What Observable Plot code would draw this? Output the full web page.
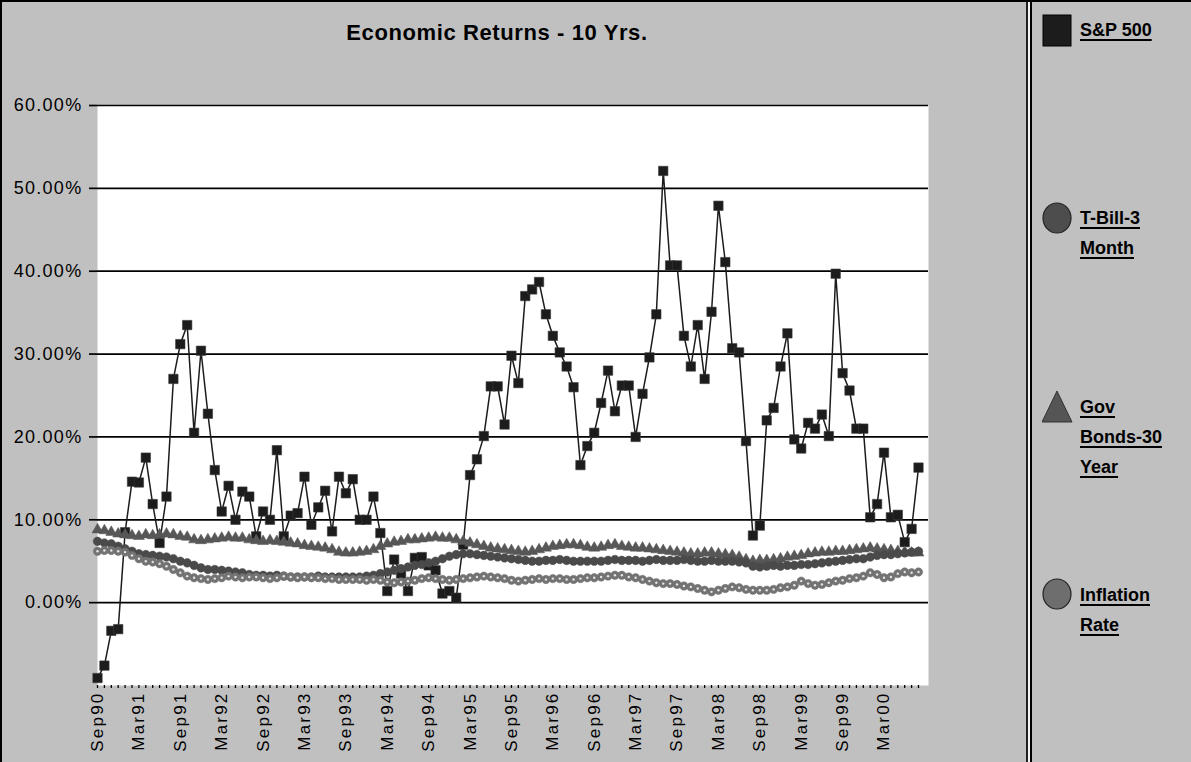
<!DOCTYPE html>
<html>
<head>
<meta charset="utf-8">
<script src="https://cdn.jsdelivr.net/npm/d3@7"></script>
<script src="https://cdn.jsdelivr.net/npm/@observablehq/plot@0.6"></script>
<style>
  html, body { margin: 0; padding: 0; background: #c0c0c0; }
  #wrap { position: relative; width: 1191px; height: 762px; background: #c0c0c0; overflow: hidden;
          font-family: "Liberation Sans", Arial, sans-serif; color: #000; }
  #chart { position: absolute; left: 0; top: 0; }
  #title { position: absolute; left: 0; width: 994px; top: 20px; text-align: center;
           font-weight: bold; font-size: 22px; line-height: 26px; letter-spacing: 0.6px; }
  .bt { position: absolute; left: 0; top: 0; width: 1191px; height: 2px; background: #000; }
  .bl { position: absolute; left: 0; top: 0; width: 2px; height: 762px; background: #000; }
  .sep1 { position: absolute; left: 1026px; top: 2px; width: 2px; height: 760px; background: #202020; }
  .sep2 { position: absolute; left: 1028px; top: 2px; width: 2px; height: 760px; background: #f4f4f4; }
  .sep3 { position: absolute; left: 1030px; top: 2px; width: 2px; height: 760px; background: #000; }
  .lg { position: absolute; left: 1080px; font-weight: bold; font-size: 18px; line-height: 22px;
        text-decoration: underline; text-decoration-thickness: 2px; text-underline-offset: 3px; white-space: nowrap; }
  .mk { position: absolute; left: 1042px; }
  svg g[aria-label="y-axis tick label"] text { letter-spacing: 1.3px; }
  svg g[aria-label="x-axis tick label"] text { letter-spacing: 2.2px; }
</style>
</head>
<body>
<div id="wrap">
  <div id="chart"></div>
  <div class="bt"></div><div class="bl"></div>
  <div class="sep1"></div><div class="sep2"></div><div class="sep3"></div>
  <div id="title"></div>
  <div id="legend"></div>
</div>
<script>
// ---- data (percent, monthly from Sep 1990) ----
const tickLabels = ["Sep90","Mar91","Sep91","Mar92","Sep92","Mar93","Sep93","Mar94","Sep94","Mar95",
                    "Sep95","Mar96","Sep96","Mar97","Sep97","Mar98","Sep98","Mar99","Sep99","Mar00"];
const yTicks = [0, 10, 20, 30, 40, 50, 60];

const sp500 = [
  -9.1, -7.6, -3.4, -3.2, 8.5, 14.6, 14.5, 17.5, 11.9, 7.2,
  12.8, 27.0, 31.2, 33.5, 20.5, 30.4, 22.8, 16.0, 11.0, 14.1,
  10.0, 13.4, 12.8, 8.0, 11.0, 10.0, 18.4, 8.0, 10.5, 10.8,
  15.2, 9.4, 11.5, 13.5, 8.6, 15.2, 13.2, 14.9, 10.0, 10.0,
  12.8, 8.4, 1.4, 5.2, 3.5, 1.4, 5.4, 5.5, 4.5, 3.9,
  1.1, 1.4, 0.6, 7.0, 15.4, 17.3, 20.1, 26.1, 26.1, 21.5,
  29.8, 26.5, 37.0, 37.8, 38.7, 34.8, 32.2, 30.2, 28.5, 26.0,
  16.6, 18.9, 20.5, 24.1, 28.0, 23.1, 26.2, 26.2, 20.0, 25.2,
  29.6, 34.8, 52.1, 40.7, 40.7, 32.2, 28.5, 33.5, 27.0, 35.1,
  47.9, 41.1, 30.7, 30.2, 19.5, 8.1, 9.3, 22.0, 23.5, 28.5,
  32.5, 19.7, 18.6, 21.7, 21.0, 22.7, 20.1, 39.7, 27.7, 25.6,
  21.0, 21.0, 10.3, 11.9, 18.1, 10.3, 10.6, 7.3, 8.9, 16.3
];
const tbill3m = [
  7.4, 7.2, 7.1, 6.8, 6.5, 6.2, 5.9, 5.8, 5.7, 5.6,
  5.5, 5.3, 5.0, 4.8, 4.5, 4.2, 4.0, 4.0, 3.9, 3.8,
  3.7, 3.6, 3.4, 3.3, 3.3, 3.2, 3.3, 3.2, 3.1, 3.1,
  3.1, 3.1, 3.2, 3.1, 3.1, 3.1, 3.1, 3.1, 3.1, 3.2,
  3.3, 3.5, 3.7, 3.9, 4.1, 4.3, 4.5, 4.6, 4.8, 5.0,
  5.3, 5.6, 5.8, 5.9, 5.9, 5.8, 5.7, 5.6, 5.5, 5.4,
  5.3, 5.2, 5.1, 5.0, 5.0, 5.1, 5.1, 5.2, 5.1, 5.0,
  5.0, 5.0, 5.0, 5.0, 5.1, 5.2, 5.1, 5.1, 5.1, 5.0,
  5.1, 5.2, 5.1, 5.1, 5.1, 5.2, 5.1, 5.0, 5.0, 5.1,
  5.0, 5.0, 5.0, 4.9, 4.8, 4.4, 4.3, 4.4, 4.5, 4.4,
  4.5, 4.5, 4.6, 4.6, 4.7, 4.8, 4.9, 5.0, 5.1, 5.2,
  5.3, 5.3, 5.5, 5.7, 5.8, 5.8, 5.9, 6.0, 6.1, 6.2
];
const govBonds30 = [
  8.8, 8.7, 8.5, 8.3, 8.2, 8.1, 8.0, 8.2, 8.1, 8.2,
  8.3, 8.2, 8.0, 7.9, 7.6, 7.5, 7.6, 7.7, 7.8, 7.9,
  7.8, 7.8, 7.6, 7.5, 7.4, 7.5, 7.4, 7.3, 7.2, 7.1,
  6.9, 6.8, 6.7, 6.6, 6.4, 6.1, 6.0, 6.0, 6.1, 6.2,
  6.4, 6.8, 7.1, 7.3, 7.4, 7.6, 7.6, 7.7, 7.8, 7.9,
  7.8, 7.8, 7.6, 7.4, 7.2, 7.0, 6.8, 6.6, 6.5, 6.4,
  6.3, 6.2, 6.1, 6.2, 6.4, 6.6, 6.8, 6.9, 7.0, 7.0,
  6.9, 6.7, 6.6, 6.7, 6.9, 7.0, 6.8, 6.7, 6.6, 6.6,
  6.5, 6.4, 6.3, 6.2, 6.1, 6.0, 5.9, 5.9, 6.0, 6.0,
  5.9, 5.8, 5.7, 5.5, 5.2, 5.0, 5.1, 5.1, 5.2, 5.3,
  5.5, 5.6, 5.7, 5.9, 6.0, 6.1, 6.1, 6.2, 6.2, 6.3,
  6.4, 6.5, 6.6, 6.5, 6.4, 6.3, 6.2, 6.1, 6.0, 6.0
];
const inflation = [
  6.2, 6.3, 6.3, 6.2, 6.1, 5.7, 5.3, 5.0, 4.9, 4.7,
  4.4, 4.0, 3.6, 3.2, 3.0, 2.9, 2.8, 2.9, 3.0, 3.2,
  3.1, 3.0, 3.1, 3.1, 3.0, 2.9, 3.0, 3.2, 3.1, 3.0,
  3.1, 3.0, 3.0, 2.9, 2.9, 2.8, 2.8, 2.8, 2.8, 2.7,
  2.8, 2.7, 2.5, 2.4, 2.5, 2.6, 2.7, 2.9, 3.0, 2.9,
  2.8, 2.7, 2.8, 2.9, 3.0, 3.1, 3.2, 3.1, 3.0, 2.9,
  2.7, 2.6, 2.7, 2.8, 2.9, 2.8, 2.9, 2.9, 2.8, 2.8,
  2.9, 3.0, 3.0, 3.1, 3.2, 3.3, 3.3, 3.1, 3.0, 2.8,
  2.6, 2.4, 2.3, 2.3, 2.2, 2.0, 1.9, 1.7, 1.5, 1.3,
  1.5, 1.7, 1.9, 1.8, 1.6, 1.5, 1.5, 1.5, 1.6, 1.8,
  1.9, 2.1, 2.6, 2.3, 2.1, 2.2, 2.4, 2.6, 2.7, 2.9,
  3.0, 3.2, 3.6, 3.4, 3.0, 3.1, 3.5, 3.7, 3.6, 3.7
];

const titleText = "Economic Returns - 10 Yrs.";

// month index for each observation
const months = d3.range(sp500.length);
const tickMonths = tickLabels.map((_, k) => k * 6);

const colSP = "#1c1c1c", colTB = "#4a4a4a", colGB = "#575757", colIN = "#737373";

const chart = Plot.plot({
  width: 1030,
  height: 762,
  marginLeft: 97,
  marginRight: 102,
  marginTop: 105,
  marginBottom: 77,
  style: { background: "transparent", fontFamily: "'Liberation Sans', Arial, sans-serif", color: "#000", overflow: "visible" },
  x: { type: "linear", domain: [0, 120.45] },
  y: { domain: [-10, 60] },
  marks: [
    Plot.frame({ fill: "white", stroke: "none" }),
    Plot.ruleY(yTicks, { stroke: "#000", strokeWidth: 1.7 }),
    Plot.axisY(yTicks, { tickSize: 8, tickPadding: 7, fontSize: 18, strokeWidth: 1.7,
                         tickFormat: d => d.toFixed(2) + "%", label: null }),
    Plot.axisX(months, { tickSize: 3, fill: "none", stroke: "#000", strokeWidth: 1.3, label: null }),
    Plot.axisX(tickMonths, { tickSize: 0, tickPadding: 6, tickRotate: -90, fontSize: 17,
                             tickFormat: d => tickLabels[d / 6], label: null }),
    // S&P 500
    Plot.line(months, { x: d => d, y: d => sp500[d], stroke: colSP, strokeWidth: 1.5 }),
    Plot.dot(months, { x: d => d, y: d => sp500[d], symbol: "square", r: 5.3, fill: colSP, stroke: "#3a3a3a", strokeWidth: 0.6 }),
    // Gov Bonds 30 year
    Plot.line(months, { x: d => d, y: d => govBonds30[d], stroke: colGB, strokeWidth: 1.2 }),
    Plot.dot(months, { x: d => d, y: d => govBonds30[d], symbol: "triangle", r: 4.1, fill: colGB, stroke: colGB, strokeWidth: 0.5 }),
    // T-Bill 3 month
    Plot.line(months, { x: d => d, y: d => tbill3m[d], stroke: colTB, strokeWidth: 1.2 }),
    Plot.dot(months, { x: d => d, y: d => tbill3m[d], r: 4.3, fill: colTB, stroke: colTB, strokeWidth: 0.5 }),
    // Inflation
    Plot.line(months, { x: d => d, y: d => inflation[d], stroke: colIN, strokeWidth: 1.2 }),
    Plot.dot(months, { x: d => d, y: d => inflation[d], r: 4.2, fill: colIN, stroke: colIN, strokeWidth: 0.5 }),
    Plot.dot(months, { x: d => d, y: d => inflation[d], r: 1.2, fill: "#e6e6e6", stroke: "none" })
  ]
});
document.getElementById("chart").appendChild(chart);
document.getElementById("title").textContent = titleText;

// ---- legend ----
const legend = document.getElementById("legend");
const legendDefs = [
  { lines: ["S&P 500"], top: 19, markTop: 14, kind: "square", color: colSP },
  { lines: ["T-Bill-3", "Month"], top: 207, markTop: 202, kind: "circle", color: "#4d4d4d" },
  { lines: ["Gov", "Bonds-30", "Year"], top: 396, markTop: 390, kind: "triangle", color: "#555555" },
  { lines: ["Inflation", "Rate"], top: 584, markTop: 578, kind: "circle", color: "#6e6e6e" }
];
legendDefs.forEach(def => {
  const mk = document.createElement("div");
  mk.className = "mk";
  mk.style.top = def.markTop + "px";
  let svg;
  if (def.kind === "square") {
    svg = `<svg width="30" height="33"><rect x="1" y="1" width="28" height="31" fill="${def.color}" stroke="#000" stroke-width="1"/></svg>`;
  } else if (def.kind === "circle") {
    svg = `<svg width="31" height="33"><ellipse cx="15" cy="16" rx="14" ry="15" fill="${def.color}" stroke="#222" stroke-width="1.2"/></svg>`;
  } else {
    svg = `<svg width="31" height="33"><polygon points="15,1 30,32 0,32" fill="${def.color}" stroke="#333" stroke-width="1"/></svg>`;
  }
  mk.innerHTML = svg;
  legend.appendChild(mk);
  def.lines.forEach((t, k) => {
    const el = document.createElement("div");
    el.className = "lg";
    el.style.top = (def.top + k * 30) + "px";
    el.textContent = t;
    legend.appendChild(el);
  });
});
</script>
</body>
</html>
